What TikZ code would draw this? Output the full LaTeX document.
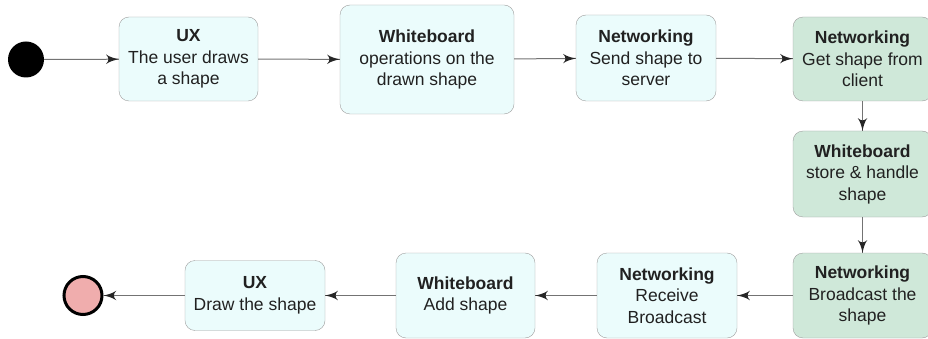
\documentclass[tikz,border=0pt]{standalone}
\usepackage{fontspec}
\setmainfont{Liberation Sans}
\usetikzlibrary{arrows}
\usetikzlibrary{decorations.markings}
\tikzset{->/.style = {decoration={markings,
                                  mark=at position 1 with {\arrow[scale=2.2, mtip]{latex'}}},
                      postaction={decorate}}}
\tikzset{circ/.style = {fill, circle, inner sep = 0, minimum size = 36}}
\tikzset{stop/.style = {draw, circle, inner sep = 0, line width = 3, fill = mpink, minimum size = 38}}
\tikzset{state/.style = {draw = mgray, fill = mcyan, rounded corners = 10, align = center,
                         inner sep = 0, text = mtext, font = \fontsize{17.5}{21.5}\selectfont}}
\tikzset{srv/.style = {state, fill = mgreen}}
\tikzset{link/.style = {mline, line width = 1}}
\definecolor{mcyan}{rgb}{0.92, 0.99, 0.99}
\definecolor{mgreen}{rgb}{0.81, 0.91, 0.85}
\definecolor{mpink}{rgb}{0.94, 0.68, 0.68}
\definecolor{mgray}{rgb}{0.62, 0.62, 0.62}
\definecolor{mline}{rgb}{0.45, 0.45, 0.45}
\definecolor{mtip}{rgb}{0.15, 0.15, 0.15}
\definecolor{mtext}{rgb}{0.13, 0.13, 0.13}

\begin{document}
\begin{tikzpicture}[x = 1pt, y = -1pt]
        \useasboundingbox (0, 0) rectangle (928, 339);

        \node [circ] (start) at (26, 59.5) {};
        \node [state, minimum width = 139, minimum height = 84] (ux) at (188.5, 59)
              {\textbf{UX}\\The user draws\\a shape};
        \node [state, minimum width = 174, minimum height = 109] (wb) at (427, 59.5)
              {\textbf{Whiteboard}\\operations on the\\drawn shape};
        \node [state, minimum width = 140, minimum height = 86] (net) at (646, 58)
              {\textbf{Networking}\\Send shape to\\server};

        \node [srv, minimum width = 139, minimum height = 84] (srvnet) at (862.5, 59)
              {\textbf{Networking}\\Get shape from\\client};
        \node [srv, minimum width = 139, minimum height = 86] (srvwb) at (862.5, 174)
              {\textbf{Whiteboard}\\store \& handle\\shape};
        \node [srv, minimum width = 139, minimum height = 85] (srvcast) at (862.5, 295.5)
              {\textbf{Networking}\\Broadcast the\\shape};

        \node [state, minimum width = 140, minimum height = 85] (recv) at (667, 295.5)
              {\textbf{Networking}\\Receive\\Broadcast};
        \node [state, minimum width = 139, minimum height = 85] (add) at (465.5, 295.5)
              {\textbf{Whiteboard}\\Add shape};
        \node [state, minimum width = 140, minimum height = 70] (show) at (255, 295.5)
              {\textbf{UX}\\Draw the shape};
        \node [stop] (end) at (83, 295.5) {};

        \draw [->, link] (start) -- (ux);
        \draw [->, link] (ux) -- (wb);
        \draw [->, link] (wb) -- (net);
        \draw [->, link] (net) -- (srvnet);
        \draw [->, link] (srvnet) -- (srvwb);
        \draw [->, link] (srvwb) -- (srvcast);
        \draw [->, link] (srvcast) -- (recv);
        \draw [->, link] (recv) -- (add);
        \draw [->, link] (add) -- (show);
        \draw [->, link] (show) -- (end);
      \end{tikzpicture}
\end{document}
